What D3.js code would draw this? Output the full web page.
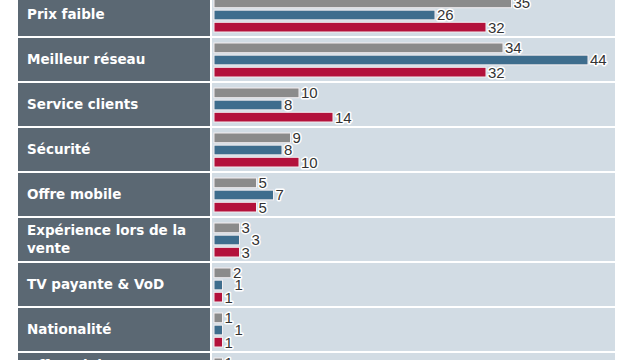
<!DOCTYPE html>
<html><head><meta charset="utf-8">
<script src="https://cdn.jsdelivr.net/npm/d3@7/dist/d3.min.js"></script>
<style>html,body{margin:0;padding:0;background:#fff;}svg{display:block;}</style>
</head><body>
<svg id="chart" width="640" height="360"></svg>
<script>
const categories = [
  "Prix faible", "Meilleur réseau", "Service clients", "Sécurité", "Offre mobile",
  "Expérience lors de la vente", "TV payante & VoD", "Nationalité", "Offre triple & quadruple play"
];
const labelLines = [
  ["Prix faible"], ["Meilleur réseau"], ["Service clients"], ["Sécurité"], ["Offre mobile"],
  ["Expérience lors de la", "vente"], ["TV payante & VoD"], ["Nationalité"], ["Offre triple &", "quadruple play"]
];
const seriesNames = ["gris", "bleu", "rouge"];
const valuesGray = [35, 34, 10, 9, 5, 3, 2, 1, 1];
const valuesBlue = [26, 44, 8, 8, 7, 3, 1, 1, 1];
const valuesRed  = [32, 32, 14, 10, 5, 3, 1, 1, 1];
const colors = {gris: "#8b8b8b", bleu: "#3e6d8d", rouge: "#b3113b"};

const svg = d3.select("#chart");
const rowH = 45;
const y = d3.scaleBand().domain(categories).range([-8, -8 + rowH * categories.length]).padding(0);
const ys = d3.scaleBand().domain(seriesNames).range([6, 40]).paddingInner(0.2);
const x = d3.scaleLinear().domain([0, 47]).range([214, 613.5]);

const data = categories.map((c, i) => ({
  cat: c, lines: labelLines[i],
  vals: {gris: valuesGray[i], bleu: valuesBlue[i], rouge: valuesRed[i]}
}));

const rows = svg.selectAll("g.row").data(data).join("g")
  .attr("class", "row")
  .attr("transform", d => `translate(0,${y(d.cat)})`);

rows.append("rect").attr("x", 212).attr("y", 1).attr("width", 615 - 212).attr("height", rowH - 2)
  .attr("fill", "#d2dce4");
rows.append("rect").attr("x", 18).attr("y", 1).attr("width", 192).attr("height", rowH - 2)
  .attr("fill", "#5b6873");

rows.each(function(d) {
  const g = d3.select(this);
  const n = d.lines.length;
  const lh = 18;
  d.lines.forEach((t, k) => {
    g.append("text").attr("x", 27)
      .attr("y", rowH / 2 + (k - (n - 1) / 2) * lh)
      .attr("dy", "0.36em")
      .attr("fill", "#ffffff")
      .style("font-family", "'DejaVu Sans', sans-serif")
      .style("font-weight", "bold")
      .style("font-size", "13.5px")
      .text(t);
  });
  seriesNames.forEach(s => {
    g.append("rect")
      .attr("x", x(0)).attr("y", ys(s))
      .attr("width", x(d.vals[s]) - x(0)).attr("height", ys.bandwidth())
      .attr("fill", colors[s]).attr("stroke", "#f3eef0").attr("stroke-width", 1);
  });
  seriesNames.forEach(s => {
    const v = d.vals[s];
    const shift = (s === "bleu" && (v === d.vals.gris || v === d.vals.rouge)) ? 10 : 0;
    g.append("text")
      .attr("x", x(v) + 2 + shift)
      .attr("y", ys(s) + ys.bandwidth() / 2)
      .attr("dy", "0.36em")
      .attr("fill", "#333333")
      .attr("stroke", "#ffffff").attr("stroke-width", 3)
      .attr("paint-order", "stroke")
      .attr("stroke-linejoin", "round")
      .style("font-family", "'Liberation Sans', Arial, sans-serif")
      .style("font-size", "15px")
      .text(v);
  });
});
</script>
</body></html>
